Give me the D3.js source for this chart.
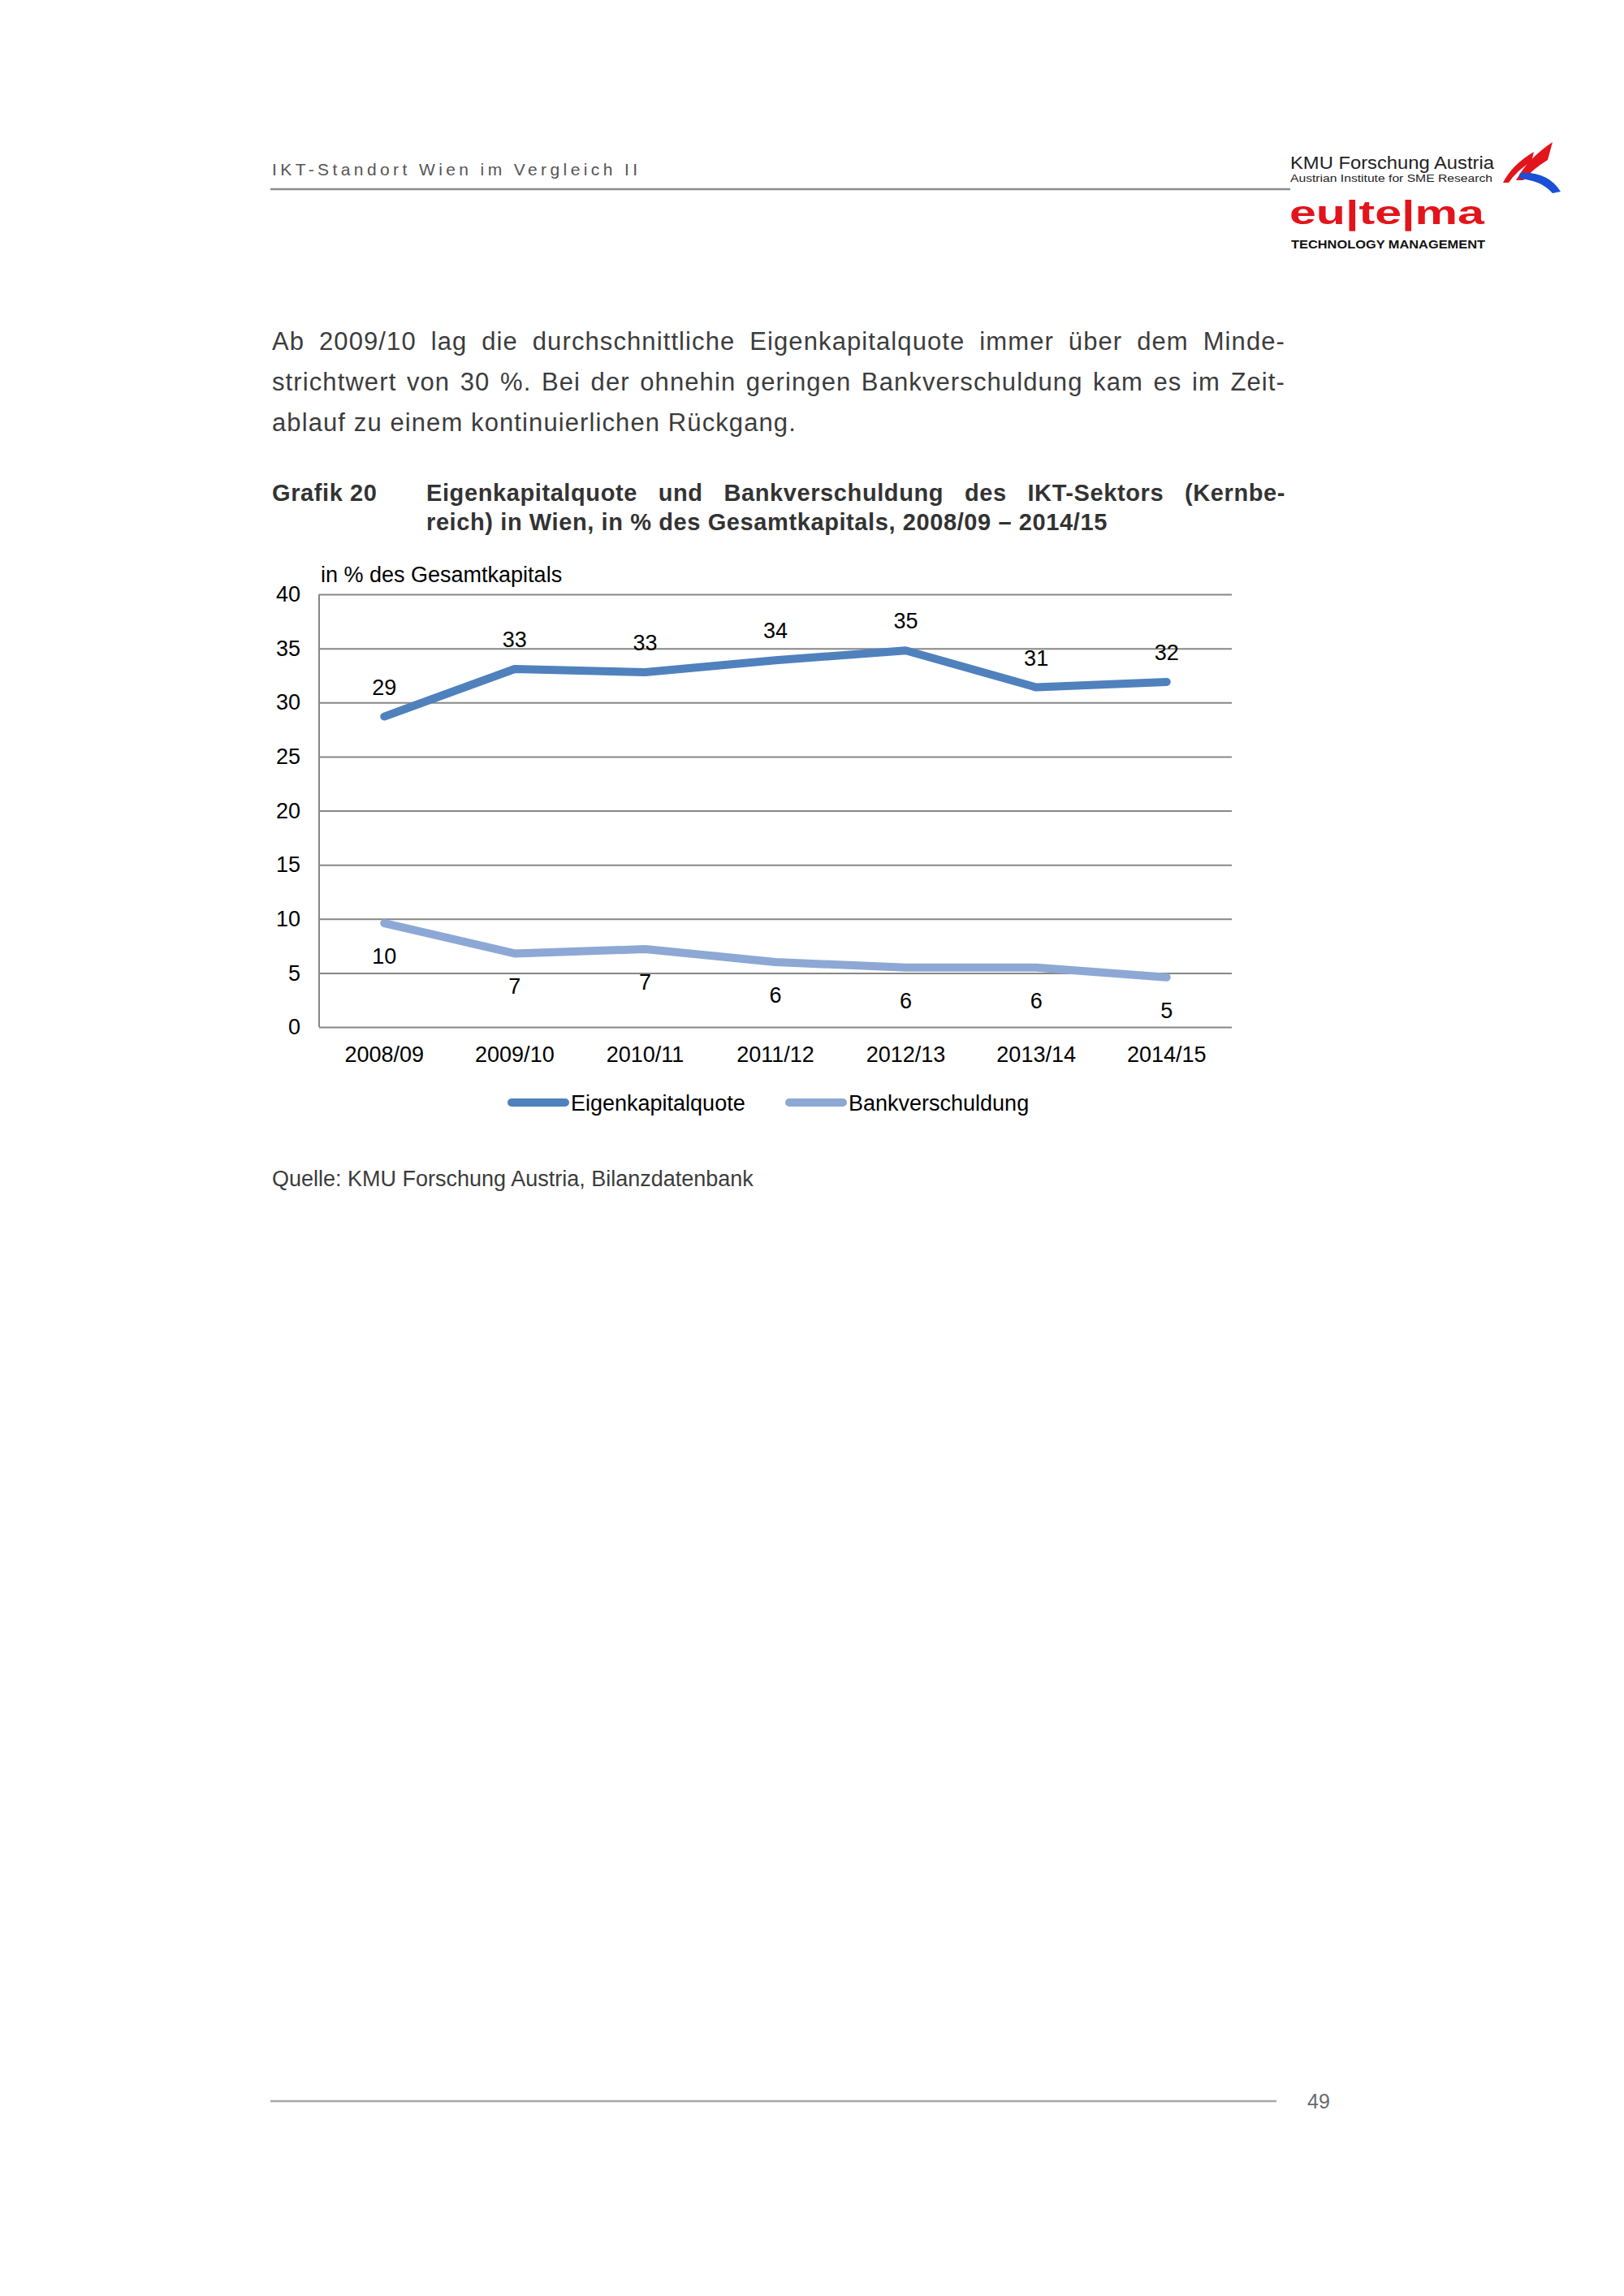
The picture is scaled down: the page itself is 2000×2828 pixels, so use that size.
<!DOCTYPE html>
<html>
<head>
<meta charset="utf-8">
<script src="https://cdn.jsdelivr.net/npm/d3@7"></script>
<style>
  body { margin: 0; background: #fff; font-family: "Liberation Sans", Arial, sans-serif; }
  #page { position: relative; width: 2000px; height: 2828px; overflow: hidden; background: #fff; }
  svg { position: absolute; left: 0; top: 0; }
  .txt { position: absolute; color: #3c3c3c; font-size: 31px; letter-spacing: 1.1px; line-height: 50px; }
  .txt div { white-space: nowrap; }
  .just { text-align: justify; text-align-last: justify; white-space: normal !important; }
  .ttl { position: absolute; color: #333; font-size: 29px; letter-spacing: 0.6px; font-weight: bold; line-height: 36px; }
</style>
</head>
<body>
<div id="page">
  <div class="txt" style="left:335px; top:396px; width:1248px;">
    <div class="just">Ab 2009/10 lag die durchschnittliche Eigenkapitalquote immer über dem Minde-</div>
    <div class="just">strichtwert von 30 %. Bei der ohnehin geringen Bankverschuldung kam es im Zeit-</div>
    <div>ablauf zu einem kontinuierlichen Rückgang.</div>
  </div>
  <div class="ttl" style="left:335px; top:589px;">Grafik 20</div>
  <div class="ttl" style="left:525px; top:589px; width:1058px;">
    <div class="just">Eigenkapitalquote und Bankverschuldung des IKT-Sektors (Kernbe-</div>
    <div style="white-space:nowrap">reich) in Wien, in % des Gesamtkapitals, 2008/09 – 2014/15</div>
  </div>
</div>
<script>
// data
const years = ["2008/09", "2009/10", "2010/11", "2011/12", "2012/13", "2013/14", "2014/15"];
const eigenkapital = [28.7, 33.1, 32.8, 33.9, 34.8, 31.4, 31.9];
const bankschulden = [9.6, 6.8, 7.2, 6.0, 5.5, 5.5, 4.6];
const eigenLabels = ["29", "33", "33", "34", "35", "31", "32"];
const bankLabels = ["10", "7", "7", "6", "6", "6", "5"];
const yTicks = [0, 5, 10, 15, 20, 25, 30, 35, 40];

const font = '"Liberation Sans", Arial, sans-serif';
const colEigen = "#4f81bd";
const colBank = "#8da8d4";

const svg = d3.select("#page").insert("svg", ":first-child")
  .attr("width", 2000)
  .attr("height", 2828)
  .style("font-family", font);

// header
svg.append("text")
  .attr("x", 335).attr("y", 216)
  .attr("font-size", 21)
  .attr("letter-spacing", 4.4)
  .attr("fill", "#555")
  .text("IKT-Standort Wien im Vergleich II");

svg.append("line")
  .attr("x1", 333).attr("x2", 1589)
  .attr("y1", 233).attr("y2", 233)
  .attr("stroke", "#8c8c8c").attr("stroke-width", 2.5);

// logo
svg.append("text")
  .attr("x", 1589).attr("y", 208)
  .attr("font-size", 22)
  .attr("textLength", 251).attr("lengthAdjust", "spacingAndGlyphs")
  .attr("fill", "#222")
  .text("KMU Forschung Austria");
svg.append("text")
  .attr("x", 1589).attr("y", 224)
  .attr("font-size", 12)
  .attr("textLength", 249).attr("lengthAdjust", "spacingAndGlyphs")
  .attr("fill", "#222")
  .text("Austrian Institute for SME Research");
svg.append("text")
  .attr("x", 1588).attr("y", 276)
  .attr("font-size", 41)
  .attr("font-weight", "bold")
  .attr("textLength", 240).attr("lengthAdjust", "spacingAndGlyphs")
  .attr("fill", "#e3141b")
  .text("eu|te|ma");
svg.append("text")
  .attr("x", 1590).attr("y", 306)
  .attr("font-size", 15)
  .attr("font-weight", "bold")
  .attr("textLength", 239).attr("lengthAdjust", "spacingAndGlyphs")
  .attr("fill", "#111")
  .text("TECHNOLOGY MANAGEMENT");

svg.append("path")
  .attr("d", "M1851,225 Q1862,203 1889,187 L1886,199 Q1868,210 1858,225 Z")
  .attr("fill", "#e3141b");
svg.append("path")
  .attr("d", "M1867,222 Q1882,195 1912,175 L1906,197 Q1888,208 1876,222 Z")
  .attr("fill", "#e3141b");
svg.append("path")
  .attr("d", "M1872,213 Q1906,211 1922,236 L1912,238 Q1898,222 1871,220 Z")
  .attr("fill", "#1a4fd6");

// chart
const plotLeft = 393, plotRight = 1517, plotTop = 732, plotBottom = 1265;

const x = d3.scaleBand().domain(years).range([plotLeft, plotRight]);
const cx = (d) => x(d) + x.bandwidth() / 2;
const y = d3.scaleLinear().domain([0, 40]).range([plotBottom, plotTop]);

const chart = svg.append("g").attr("font-family", font);

// gridlines
chart.append("g")
  .attr("transform", "translate(" + plotLeft + ",0)")
  .call(d3.axisLeft(y).tickValues(yTicks).tickSize(-(plotRight - plotLeft)).tickFormat(""))
  .call((g) => g.selectAll(".tick line").attr("stroke", "#878787").attr("stroke-width", 2))
  .call((g) => g.select(".domain").attr("stroke", "#878787").attr("stroke-width", 2).attr("d", "M0," + plotTop + "V" + plotBottom));

// y labels
chart.append("g")
  .attr("transform", "translate(" + plotLeft + ",0)")
  .call(d3.axisLeft(y).tickValues(yTicks).tickSize(0).tickPadding(23))
  .call((g) => g.select(".domain").remove())
  .call((g) => g.selectAll("text").attr("font-size", 27).attr("font-family", font).attr("fill", "#000"));

// x labels
chart.append("g")
  .attr("transform", "translate(0," + plotBottom + ")")
  .call(d3.axisBottom(x).tickSize(0).tickPadding(24))
  .call((g) => g.select(".domain").remove())
  .call((g) => g.selectAll("text").attr("font-size", 27).attr("font-family", font).attr("fill", "#000"));

// axis title
chart.append("text")
  .attr("x", 395).attr("y", 717)
  .attr("font-size", 27)
  .attr("fill", "#000")
  .text("in % des Gesamtkapitals");

const line = d3.line().x((d, i) => cx(years[i])).y((d) => y(d));

chart.append("path")
  .datum(bankschulden)
  .attr("d", line)
  .attr("fill", "none")
  .attr("stroke", colBank)
  .attr("stroke-width", 10)
  .attr("stroke-linecap", "round")
  .attr("stroke-linejoin", "round");

chart.append("path")
  .datum(eigenkapital)
  .attr("d", line)
  .attr("fill", "none")
  .attr("stroke", colEigen)
  .attr("stroke-width", 10)
  .attr("stroke-linecap", "round")
  .attr("stroke-linejoin", "round");

// data labels
chart.selectAll(".lblE")
  .data(eigenkapital)
  .enter()
  .append("text")
  .attr("class", "lblE")
  .attr("x", (d, i) => cx(years[i]))
  .attr("y", (d) => y(d) - 27)
  .attr("text-anchor", "middle")
  .attr("font-size", 27)
  .attr("fill", "#000")
  .text((d, i) => eigenLabels[i]);

chart.selectAll(".lblB")
  .data(bankschulden)
  .enter()
  .append("text")
  .attr("class", "lblB")
  .attr("x", (d, i) => cx(years[i]))
  .attr("y", (d) => y(d) + 50)
  .attr("text-anchor", "middle")
  .attr("font-size", 27)
  .attr("fill", "#000")
  .text((d, i) => bankLabels[i]);

// legend
const legend = [
  { name: "Eigenkapitalquote", color: colEigen, x: 630 },
  { name: "Bankverschuldung", color: colBank, x: 972 }
];
const lg = chart.selectAll(".legend")
  .data(legend)
  .enter()
  .append("g")
  .attr("class", "legend")
  .attr("transform", (d) => "translate(" + d.x + ",1358)");
lg.append("line")
  .attr("x1", 0).attr("x2", 66)
  .attr("stroke", (d) => d.color)
  .attr("stroke-width", 10)
  .attr("stroke-linecap", "round");
lg.append("text")
  .attr("x", 73).attr("y", 10)
  .attr("font-size", 27)
  .attr("fill", "#000")
  .text((d) => d.name);

// source
svg.append("text")
  .attr("x", 335).attr("y", 1461)
  .attr("font-size", 27)
  .attr("fill", "#3c3c3c")
  .text("Quelle: KMU Forschung Austria, Bilanzdatenbank");

// footer
svg.append("line")
  .attr("x1", 333).attr("x2", 1572)
  .attr("y1", 2588).attr("y2", 2588)
  .attr("stroke", "#a8a8a8").attr("stroke-width", 2.5);
svg.append("text")
  .attr("x", 1610).attr("y", 2597)
  .attr("font-size", 25)
  .attr("fill", "#6a6a6a")
  .text("49");
</script>
</body>
</html>
